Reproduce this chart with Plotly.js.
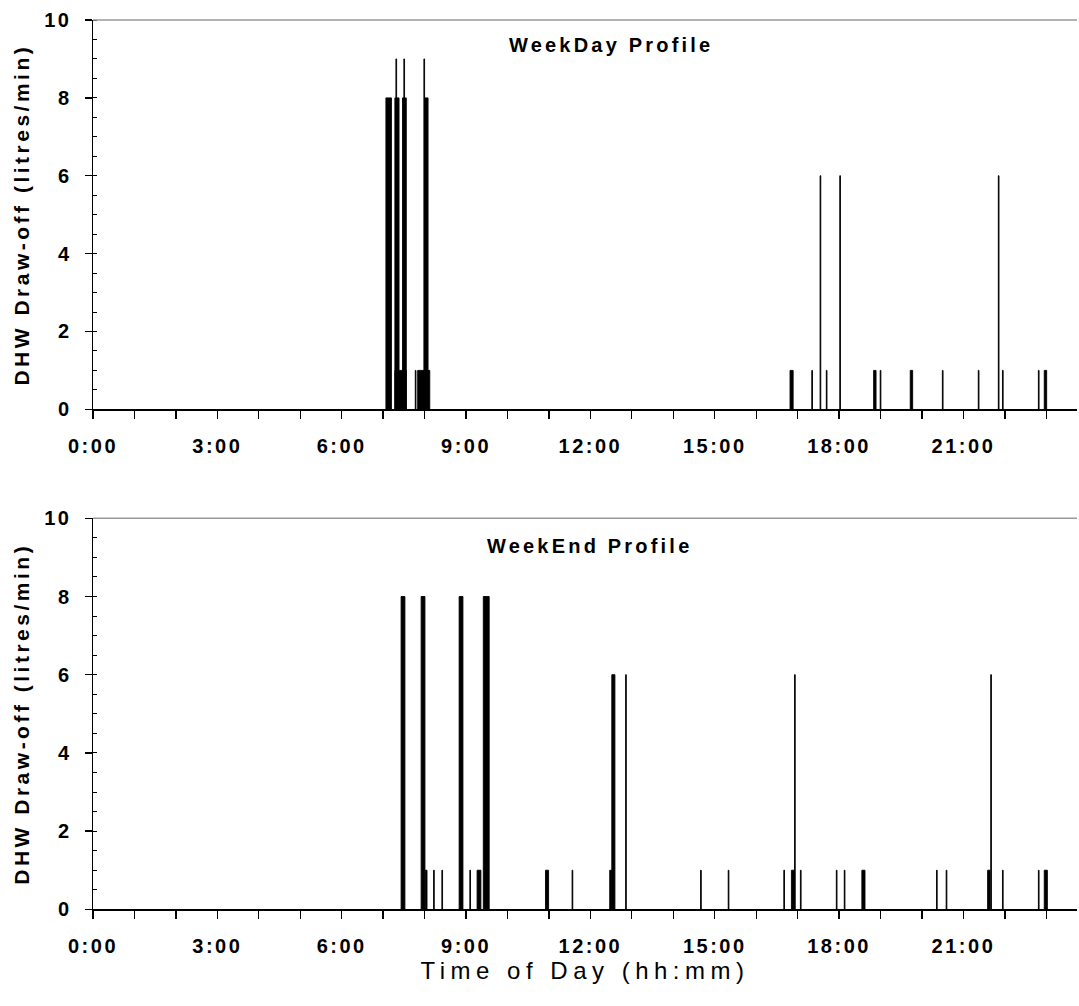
<!DOCTYPE html>
<html>
<head>
<meta charset="utf-8">
<script src="https://cdn.plot.ly/plotly-3.0.1.min.js"></script>
<style>
  html, body { margin: 0; padding: 0; background: #fff; }
  #chart { width: 1079px; height: 1006px; }
  .xtick text, .x2tick text, .ytick text, .y2tick text { letter-spacing: 2.5px; }
  .annotation-text { letter-spacing: 3.2px; }
  .x2title { letter-spacing: 5.5px; }
  .ytitle, .y2title { letter-spacing: 3.5px; }
</style>
</head>
<body>
<div id="chart"></div>
<script>
// Draw-off events: start (minutes after midnight), duration (minutes), flow (litres/min)
const weekdayStart = [424, 437, 437, 448, 438.5, 450, 466.5, 470, 479, 480,
                      1009, 1040.5, 1052.5, 1061.5, 1081, 1130, 1139.5, 1183, 1229.5, 1281.5, 1310.5, 1316.5, 1368.5, 1377];
const weekdayDur   = [8, 6, 16.5, 5.5, 1, 1, 1, 17.5, 1, 5,
                      4.5, 1, 1, 1, 1, 3.5, 1, 3.5, 1, 1, 1, 1, 1, 3.5];
const weekdayFlow  = [8, 8, 1, 8, 9, 9, 1, 1, 9, 8,
                      1, 1, 6, 1, 6, 1, 1, 1, 1, 1, 6, 1, 1, 1];

const weekendStart = [446, 475, 481, 493, 505, 530, 545.5, 556, 565, 655, 693.5, 748, 751, 771,
                      879.5, 919.5, 1000, 1011, 1015.5, 1024, 1076, 1087.5, 1113, 1221, 1235, 1295, 1299.5, 1316.5, 1368.5, 1377];
const weekendDur   = [5.5, 5.5, 2.5, 1, 1, 5.5, 1, 5.5, 8.5, 4.5, 1, 2.5, 4.5, 1,
                      1, 1, 1, 4.5, 1, 1, 1, 1, 4.5, 1, 1, 3.5, 1, 1, 1, 4.5];
const weekendFlow  = [8, 8, 1, 1, 1, 8, 1, 1, 8, 1, 1, 1, 6, 6,
                      1, 1, 1, 1, 6, 1, 1, 1, 1, 1, 1, 1, 6, 1, 1, 1];

const hourTicks = [0,1,2,3,4,5,6,7,8,9,10,11,12,13,14,15,16,17,18,19,20,21,22,23];
const hourLabels = ['0:00','','','3:00','','','6:00','','','9:00','','','12:00','','','15:00','','','18:00','','','21:00','',''];

const yTitle = 'DHW Draw-off (litres/min)';
const xTitle = 'Time of Day (hh:mm)';
const panelTitles = ['WeekDay Profile', 'WeekEnd Profile'];

function centers(start, dur) { return start.map((s, i) => (s + dur[i] / 2) / 60); }
function widths(dur) { return dur.map(d => d / 60); }

const FONT = 'Liberation Sans, Arial, sans-serif';

const traces = [
  { type: 'bar', x: centers(weekdayStart, weekdayDur), y: weekdayFlow, width: widths(weekdayDur),
    marker: { color: '#000', line: { width: 0.9, color: '#000' } }, xaxis: 'x', yaxis: 'y', hoverinfo: 'none' },
  { type: 'bar', x: centers(weekendStart, weekendDur), y: weekendFlow, width: widths(weekendDur),
    marker: { color: '#000', line: { width: 0.9, color: '#000' } }, xaxis: 'x2', yaxis: 'y2', hoverinfo: 'none' }
];

function xAxis(anchor, withTitle) {
  const a = {
    domain: [0, 1], anchor: anchor, range: [0, 23.74], automargin: false,
    tickmode: 'array', tickvals: hourTicks, ticktext: hourLabels,
    ticks: 'outside', ticklen: 8, tickwidth: 1.3, tickcolor: '#000',
    showline: true, linecolor: '#000', linewidth: 1.5,
    showgrid: false, zeroline: false,
    tickfont: { family: FONT, size: 20, weight: 'bold', color: '#000' },
    ticklabelstandoff: 10
  };
  if (withTitle) a.title = { text: xTitle, font: { family: FONT, size: 24, color: '#000' }, standoff: 0 };
  return a;
}
function yAxis(anchor, domain) {
  return {
    domain: domain, anchor: anchor, range: [0, 10], automargin: false,
    tickmode: 'linear', tick0: 0, dtick: 2,
    ticks: 'outside', ticklen: 7, tickwidth: 1.3, tickcolor: '#000',
    minor: { dtick: 0.5, ticks: 'inside', ticklen: 4, tickwidth: 1, tickcolor: '#000' },
    showline: true, linecolor: '#000', linewidth: 1.5,
    showgrid: false, zeroline: false,
    tickfont: { family: FONT, size: 20, weight: 'bold', color: '#000' },
    ticklabelstandoff: 9,
    title: { text: yTitle, font: { family: FONT, size: 21, weight: 'bold', color: '#000' }, standoff: 9 }
  };
}

const layout = {
  width: 1079, height: 1006,
  margin: { l: 93, r: 2, t: 0, b: 0 },
  paper_bgcolor: '#fff', plot_bgcolor: '#fff',
  showlegend: false, barmode: 'overlay',
  xaxis: xAxis('y', false),
  yaxis: yAxis('x', [0.5931, 0.9801]),
  xaxis2: xAxis('y2', true),
  yaxis2: yAxis('x2', [0.0961, 0.4848]),
  shapes: [
    { type: 'line', xref: 'x domain', yref: 'y domain', x0: 0, x1: 1, y0: 1, y1: 1, line: { color: '#999', width: 1.5 } },
    { type: 'line', xref: 'x2 domain', yref: 'y2 domain', x0: 0, x1: 1, y0: 1, y1: 1, line: { color: '#999', width: 1.5 } }
  ],
  annotations: [
    { text: panelTitles[0], xref: 'x domain', yref: 'y domain', x: 0.526, y: 0.936, xanchor: 'center', yanchor: 'middle', showarrow: false,
      font: { family: FONT, size: 20, weight: 'bold', color: '#000' } },
    { text: panelTitles[1], xref: 'x2 domain', yref: 'y2 domain', x: 0.505, y: 0.928, xanchor: 'center', yanchor: 'middle', showarrow: false,
      font: { family: FONT, size: 20, weight: 'bold', color: '#000' } }
  ]
};

Plotly.newPlot('chart', traces, layout, { staticPlot: true, displayModeBar: false });
</script>
</body>
</html>
